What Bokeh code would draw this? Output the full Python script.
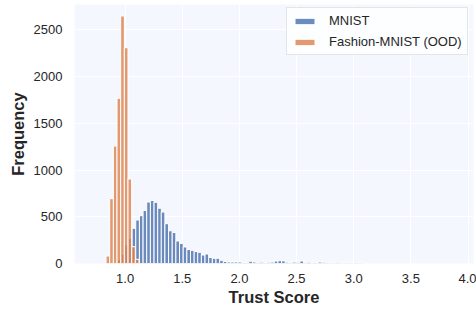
from bokeh.plotting import figure
from bokeh.models import ColumnDataSource, Range1d, FixedTicker, Legend, LegendItem
from bokeh.embed import file_html
from bokeh.resources import INLINE

# ---- data ----
mnist_centers = [0.918, 0.950, 0.982, 1.013, 1.045, 1.077, 1.109, 1.141, 1.173, 1.205,
                 1.237, 1.269, 1.301, 1.332, 1.364, 1.396, 1.428, 1.460, 1.492, 1.524,
                 1.556, 1.588, 1.620, 1.651, 1.683, 1.715, 1.747, 1.779, 1.811, 1.843,
                 1.875, 1.907, 1.939, 1.970, 2.002, 2.034, 2.066, 2.098, 2.130, 2.162,
                 2.194, 2.226, 2.258, 2.289, 2.321, 2.353, 2.385, 2.417, 2.449, 2.481,
                 2.513, 2.545, 2.577, 2.608, 2.640, 2.672, 2.704, 2.736, 2.768, 2.800,
                 2.832, 2.864, 2.896, 2.927, 2.959, 2.991, 3.023, 3.055]
mnist_counts = [10, 40, 100, 200, 270, 377, 466, 512, 567, 658,
                675, 655, 592, 551, 426, 350, 332, 241, 215, 177,
                150, 141, 128, 120, 91, 102, 64, 56, 56, 34,
                21, 16, 16, 16, 16, 9, 9, 24, 16, 12,
                14, 10, 13, 15, 26, 30, 28, 14, 12, 15,
                13, 27, 12, 14, 11, 10, 16, 13, 8, 6,
                5, 8, 4, 6, 5, 3, 10, 5]
mnist_bin_width = 0.0319

fashion_centers = [0.849, 0.881, 0.913, 0.945, 0.977, 1.009, 1.041, 1.073, 1.105]
fashion_counts = [80, 694, 1258, 1769, 2650, 2310, 905, 180, 45]
fashion_bin_width = 0.032

x_ticks = [1.0, 1.5, 2.0, 2.5, 3.0, 3.5, 4.0]
x_tick_labels = ["1.0", "1.5", "2.0", "2.5", "3.0", "3.5", "4.0"]
y_ticks = [0, 500, 1000, 1500, 2000, 2500]
y_tick_labels = ["0", "500", "1000", "1500", "2000", "2500"]

series_names = ["MNIST", "Fashion-MNIST (OOD)"]
BLUE = "#4C72B0"
ORANGE = "#DD8452"
BG = "#F5F7FE"
TXT = "#262626"
FONT = "Liberation Sans"

p = figure(width=476, height=311, output_backend="svg", toolbar_location=None,
           x_range=Range1d(0.557, 4.048), y_range=Range1d(0, 2773),
           min_border_left=74, min_border_right=3, min_border_top=4, min_border_bottom=48)
p.background_fill_color = BG
p.border_fill_color = "white"
p.outline_line_color = None

src_m = ColumnDataSource(dict(x=mnist_centers, top=mnist_counts))
src_f = ColumnDataSource(dict(x=fashion_centers, top=fashion_counts))

r_m = p.vbar(x="x", top="top", bottom=0, width=mnist_bin_width, source=src_m,
             fill_color=BLUE, fill_alpha=0.82, line_color="white", line_width=1)
r_f = p.vbar(x="x", top="top", bottom=0, width=fashion_bin_width, source=src_f,
             fill_color=ORANGE, fill_alpha=0.82, line_color="white", line_width=1)

# grids
for g in (p.xgrid, p.ygrid):
    g.grid_line_color = "white"
    g.grid_line_width = 1
p.xgrid.ticker = FixedTicker(ticks=x_ticks)
p.ygrid.ticker = FixedTicker(ticks=y_ticks)

# axes
p.xaxis.ticker = FixedTicker(ticks=x_ticks)
p.yaxis.ticker = FixedTicker(ticks=y_ticks)
p.xaxis.major_label_overrides = {t: l for t, l in zip(x_ticks, x_tick_labels)}
p.yaxis.major_label_overrides = {t: l for t, l in zip(y_ticks, y_tick_labels)}
p.xaxis.axis_label = "Trust Score"
p.yaxis.axis_label = "Frequency"
for ax in (p.xaxis, p.yaxis):
    ax.axis_line_color = None
    ax.major_tick_line_color = None
    ax.minor_tick_line_color = None
    ax.major_tick_out = 0
    ax.major_tick_in = 0
    ax.minor_tick_out = 0
    ax.major_label_text_font = FONT
    ax.major_label_text_font_size = "13px"
    ax.major_label_text_color = TXT
    ax.axis_label_text_font = FONT
    ax.axis_label_text_font_size = "16.5px"
    ax.axis_label_text_font_style = "bold"
    ax.axis_label_text_color = TXT
p.xaxis.major_label_standoff = 10
p.yaxis.major_label_standoff = 12
p.xaxis.axis_label_standoff = 2
p.yaxis.axis_label_standoff = 4

legend = Legend(items=[LegendItem(label=series_names[0], renderers=[r_m]),
                       LegendItem(label=series_names[1], renderers=[r_f])],
                location=(212, 208))
legend.label_text_font = FONT
legend.label_text_font_size = "13px"
legend.label_text_color = TXT
legend.glyph_width = 25
legend.glyph_height = 8
legend.label_height = 14
legend.label_standoff = 12
legend.spacing = 6
legend.padding = 5
legend.margin = 0
legend.background_fill_color = "white"
legend.background_fill_alpha = 0.8
legend.border_line_color = "#cccccc"
legend.border_line_width = 1
p.add_layout(legend)

open("out.html", "w").write(file_html(p, INLINE))
